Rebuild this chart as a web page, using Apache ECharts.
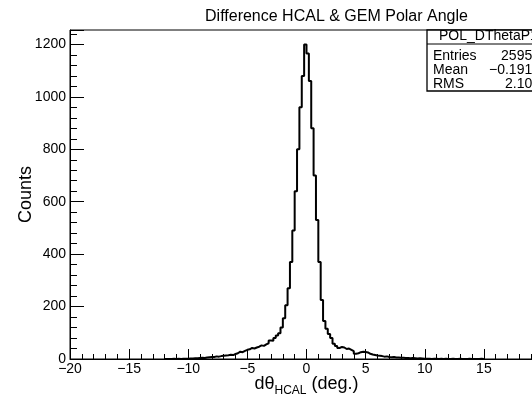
<!DOCTYPE html>
<html><head><meta charset="utf-8">
<script src="https://cdn.jsdelivr.net/npm/echarts@6/dist/echarts.min.js"></script>
<style>html,body{margin:0;padding:0;background:#fff}#c{width:532px;height:396px}</style>
</head><body><div id="c"></div>
<script>
const titleText = 'Difference HCAL & GEM Polar Angle';
const xName = '{a|d\u03b8}{b|HCAL}{a| (deg.)}';
const yName = 'Counts';
const histMin = -12;
const binWidth = 0.2;
const farLeftCounts = [0,0,0,1,0,1,0,1,1,1];
const leftCounts = [2,2,3,3,4,5,4,6,7,8,8,10,9,11,12,13,14,16,15,19,22,28,26,31,35,37,42,40,44,47,52,50,56,60,71,70,80,90,98,120,155,205,270,370,490,640,800,960,1080,1200];
const rightCounts = [1165,1060,880,700,530,370,225,145,115,95,80,58,50,42,46,44,38,40,35,30,20,22,26,28,27,25,20,17,15,13,12,11,9,10,8,7,8,6,6,5,5,4,4,3,4,3,2,3,2,1];
const farRightCounts = [1,1,0,1,1,0,1,0,1,0,0,1,0,0,1,0,0,0,1,0,0,0,0,1,0];
const xMin = -20, xMax = 20, xStep = 5;
const yMin = 0, yMax = 1255, yStep = 200, yMinorStep = 40;
const statsName = 'POL_DThetaP1';
const statsLabels = ['Entries', 'Mean', 'RMS'];
const statsValues = ['25952', '\u22120.1914', '2.104'];

const counts = farLeftCounts.concat(leftCounts, rightCounts, farRightCounts);
const data = counts.map((c, i) => [histMin + i * binWidth, c]);
data.push([histMin + counts.length * binWidth, 0]);

const FF = 'Liberation Sans, Arial, Helvetica, sans-serif';
const chart = echarts.init(document.getElementById('c'), null, {renderer: 'canvas'});

const statsGraphics = [
  {type: 'rect', shape: {x: 427, y: 30, width: 140, height: 61}, style: {fill: '#fff', stroke: '#000', lineWidth: 1.3}, z: 100},
  {type: 'line', shape: {x1: 427, y1: 44, x2: 567, y2: 44}, style: {stroke: '#000', lineWidth: 1}, z: 101},
  {type: 'text', x: 439, y: 36.5, style: {text: statsName, fontSize: 14, fontFamily: FF, fill: '#000', textAlign: 'left', textVerticalAlign: 'middle'}, z: 102}
];
statsLabels.forEach((l, i) => {
  statsGraphics.push({type: 'text', x: 433, y: 56 + i * 14, style: {text: l, fontSize: 14, fontFamily: FF, fill: '#000', textAlign: 'left', textVerticalAlign: 'middle'}, z: 102});
  statsGraphics.push({type: 'text', x: 540, y: 56 + i * 14, style: {text: statsValues[i], fontSize: 14, fontFamily: FF, fill: '#000', textAlign: 'right', textVerticalAlign: 'middle'}, z: 102});
});

chart.setOption({
  animation: false,
  backgroundColor: '#fff',
  title: {text: titleText, left: 336.5, top: 9, padding: 0, textAlign: 'center',
    textStyle: {fontSize: 16, fontWeight: 'normal', color: '#000', fontFamily: FF}},
  grid: {left: 70, top: 30, width: 473, height: 329, containLabel: false, outerBoundsMode: 'none',
    show: true, borderColor: '#000', borderWidth: 1, backgroundColor: 'transparent'},
  xAxis: {
    type: 'value', min: xMin, max: xMax, interval: xStep,
    name: xName, nameLocation: 'middle', nameGap: 16, nameMoveOverlap: false,
    nameTextStyle: {color: '#000', fontFamily: FF, verticalAlign: 'top',
      rich: {a: {fontSize: 18, fontFamily: FF, color: '#000', lineHeight: 20, verticalAlign: 'top'},
             b: {fontSize: 12, fontFamily: FF, color: '#000', lineHeight: 12, verticalAlign: 'top', padding: [10, 0, 0, 0]}}},
    axisLine: {show: true, onZero: false, lineStyle: {color: '#000', width: 1}},
    axisTick: {show: true, inside: true, length: 10, lineStyle: {color: '#000', width: 1}},
    minorTick: {show: true, splitNumber: 5, length: 5, lineStyle: {color: '#000', width: 1}},
    axisLabel: {color: '#000', fontSize: 14, fontFamily: FF, margin: 3,
      formatter: v => String(v).replace('-', '\u2212')},
    splitLine: {show: false}
  },
  yAxis: [{
    type: 'value', min: yMin, max: yMax, interval: yStep, position: 'left',
    name: yName, nameLocation: 'middle', nameGap: 35, nameMoveOverlap: false,
    nameTextStyle: {color: '#000', fontSize: 18, fontFamily: FF},
    axisLine: {show: true, onZero: false, lineStyle: {color: '#000', width: 1}},
    axisTick: {show: true, inside: true, length: 14, lineStyle: {color: '#000', width: 1}},
    axisLabel: {color: '#000', fontSize: 14, fontFamily: FF, margin: 4,
      formatter: v => (v % yStep === 0 ? String(v) : '')},
    splitLine: {show: false}
  }, {
    type: 'value', min: yMin, max: yMax, interval: yMinorStep, position: 'left',
    axisLine: {show: false, onZero: false},
    axisTick: {show: true, inside: true, length: 7, lineStyle: {color: '#000', width: 1}},
    axisLabel: {show: false},
    splitLine: {show: false}
  }],
  series: [{
    type: 'line', step: 'end', symbol: 'none', data: data, yAxisIndex: 0,
    lineStyle: {color: '#000', width: 2}, clip: true, z: 5
  }],
  graphic: statsGraphics
});
</script></body></html>
